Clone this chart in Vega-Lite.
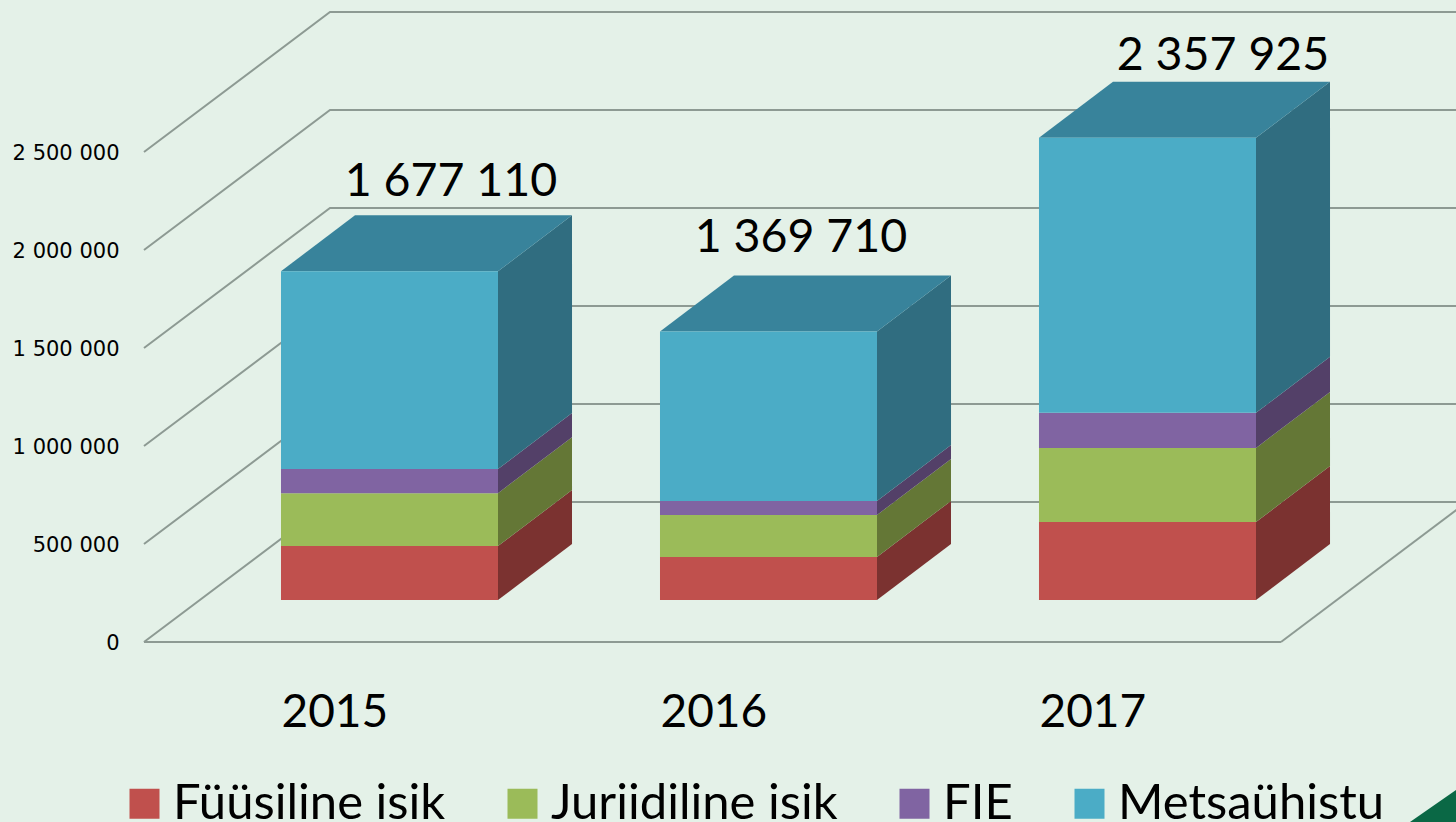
{
"$schema":"https://vega.github.io/schema/vega-lite/v6.json",
"width":1456,"height":822,"autosize":{"type":"none"},"padding":0,
"background":"#e4f1e8",
"config":{"view":{"stroke":null}},
"datasets":{
"bars":[
{"year":2015,"segment":"Füüsiline isik","value":275000},
{"year":2015,"segment":"Juriidiline isik","value":270000},
{"year":2015,"segment":"FIE","value":123000},
{"year":2015,"segment":"Metsaühistu","value":1009110},
{"year":2016,"segment":"Füüsiline isik","value":220000},
{"year":2016,"segment":"Juriidiline isik","value":214000},
{"year":2016,"segment":"FIE","value":71000},
{"year":2016,"segment":"Metsaühistu","value":864710},
{"year":2017,"segment":"Füüsiline isik","value":398000},
{"year":2017,"segment":"Juriidiline isik","value":378000},
{"year":2017,"segment":"FIE","value":179000},
{"year":2017,"segment":"Metsaühistu","value":1402925}
],
"ticks":[{"tick":0},{"tick":500000},{"tick":1000000},{"tick":1500000},{"tick":2000000},{"tick":2500000}],
"floor":[{"tick":0}],
"corner":[{"cx":2017.979,"cy":-918367},{"cx":2018.1003,"cy":-755000}]
},
"encoding":{
"x":{"field":"gx","type":"quantitative","title":null,"stack":null,"scale":{"domain":[2014.2586,2018.1003],"nice":false,"zero":false},
"axis":{"values":[2015,2016,2017],"format":"d","domain":false,"ticks":false,"grid":false,"labelAlign":"left","labelBaseline":"middle","labelPadding":0,"offset":-110,"labelFont":"Lato","labelFontSize":46,"labelColor":"#000000","labelFlush":false,"labelOverlap":false}},
"y":{"field":"gy","type":"quantitative","title":null,"stack":null,"scale":{"domain":[-918367,3275510],"nice":false,"zero":false},
"axis":{"values":[0,500000,1000000,1500000,2000000,2500000],"labelExpr":"replace(format(datum.value,','),/,/g,' ')","domain":false,"ticks":false,"grid":false,"labelAlign":"right","labelBaseline":"middle","labelPadding":0,"labelOffset":1.5,"offset":-119,"labelFont":"DejaVu Sans","labelFontSize":21,"labelColor":"#000000","labelOverlap":false}}
},
"layer":[
{"data":{"name":"ticks"},
"transform":[{"calculate":"[0,1,2]","as":"p"},{"flatten":["p"]},
{"calculate":"[2014.6385,2015.1293,2018.1293][datum.p]","as":"gx"},
{"calculate":"datum.tick+(datum.p>0?714286:0)","as":"gy"}],
"mark":{"type":"line","stroke":"#8d9a93","strokeWidth":2,"clip":true},
"encoding":{"detail":{"field":"tick"},"order":{"field":"p"}}},
{"data":{"name":"floor"},
"transform":[{"calculate":"[0,1]","as":"p"},{"flatten":["p"]},
{"calculate":"[2017.6385,2018.1293][datum.p]","as":"gx"},
{"calculate":"datum.tick+(datum.p>0?714286:0)","as":"gy"}],
"mark":{"type":"line","stroke":"#8d9a93","strokeWidth":2,"clip":true},
"encoding":{"order":{"field":"p"}}},
{"data":{"name":"floor"},
"transform":[{"calculate":"[0,1]","as":"p"},{"flatten":["p"]},
{"calculate":"[2014.6385,2017.6385][datum.p]","as":"gx"},
{"calculate":"datum.tick","as":"gy"}],
"mark":{"type":"line","stroke":"#8d9a93","strokeWidth":2},
"encoding":{"order":{"field":"p"}}},
{"data":{"name":"bars"},
"transform":[
{"calculate":"indexof(['Füüsiline isik','Juriidiline isik','FIE','Metsaühistu'],datum.segment)","as":"rank"},
{"stack":"value","groupby":["year"],"sort":[{"field":"rank","order":"ascending"}],"as":["v0","v1"]},
{"calculate":"[0,1]","as":"d"},{"flatten":["d"]},
{"calculate":"datum.year+0.5726+datum.d*0.1953","as":"gx"},
{"calculate":"datum.v1+214286+datum.d*285714","as":"gy"},
{"calculate":"datum.v0+214286+datum.d*285714","as":"gy0"},
{"calculate":"datum.year+'-'+datum.segment","as":"face"}],
"mark":{"type":"area","orient":"vertical"},
"encoding":{"y2":{"field":"gy0"},"detail":{"field":"face"},
"color":{"field":"segment","type":"nominal","legend":null,"scale":{"domain":["Füüsiline isik","Juriidiline isik","FIE","Metsaühistu"],"range":["#7b3230","#647736","#534068","#306d80"]}}}},
{"data":{"name":"bars"},
"transform":[
{"joinaggregate":[{"op":"sum","field":"value","as":"total"}],"groupby":["year"]},
{"filter":"datum.segment==='Metsaühistu'"},
{"calculate":"[0,1]","as":"d"},{"flatten":["d"]},
{"calculate":"datum.year+datum.d*0.1953","as":"gx"},
{"calculate":"datum.year+0.5726+datum.d*0.1953","as":"gx2"},
{"calculate":"datum.total+214286+datum.d*285714","as":"gy"}],
"mark":{"type":"area","orient":"horizontal","color":"#38839b"},
"encoding":{"x2":{"field":"gx2"},"detail":{"field":"year"}}},
{"data":{"name":"bars"},
"transform":[
{"calculate":"indexof(['Füüsiline isik','Juriidiline isik','FIE','Metsaühistu'],datum.segment)","as":"rank"},
{"stack":"value","groupby":["year"],"sort":[{"field":"rank","order":"ascending"}],"as":["v0","v1"]},
{"calculate":"datum.year","as":"gx"},
{"calculate":"datum.year+0.5726","as":"gx2"},
{"calculate":"datum.v1+214286","as":"gy"},
{"calculate":"datum.v0+214286","as":"gy0"}],
"mark":{"type":"bar"},
"encoding":{"x2":{"field":"gx2"},"y2":{"field":"gy0"},
"color":{"field":"segment","type":"nominal",
"scale":{"domain":["Füüsiline isik","Juriidiline isik","FIE","Metsaühistu"],"range":["#c0504d","#9bbb59","#8064a2","#4bacc6"]},
"legend":{"title":null,"orient":"none","legendX":120,"legendY":779,"direction":"horizontal","columns":4,"gridAlign":"each","symbolType":"square","symbolSize":900,"symbolStrokeWidth":0,"labelFont":"Lato","labelFontSize":49,"labelColor":"#000000","labelOffset":4,"columnPadding":52,"labelLimit":500,"symbolOpacity":1}}}},
{"data":{"name":"bars"},
"transform":[
{"aggregate":[{"op":"sum","field":"value","as":"total"}],"groupby":["year"]},
{"calculate":"datum.year+({'2015':0.4485,'2016':0.372,'2017':0.4855})[datum.year]","as":"gx"},
{"calculate":"datum.total+214286+({'2015':454000,'2016':475000,'2017':419000})[datum.year]","as":"gy"},
{"calculate":"replace(format(datum.total,','),/,/g,' ')","as":"label"}],
"mark":{"type":"text","font":"Lato","fontSize":46.5,"color":"#000000","align":"center","baseline":"middle"},
"encoding":{"text":{"field":"label"}}},
{"data":{"name":"corner"},
"transform":[{"calculate":"datum.cx","as":"gx"},{"calculate":"datum.cy","as":"gy"}],
"mark":{"type":"area","color":"#0a6845"},
"encoding":{"y2":{"datum":-918367}}}
],
"resolve":{"scale":{"color":"independent"}}
}
